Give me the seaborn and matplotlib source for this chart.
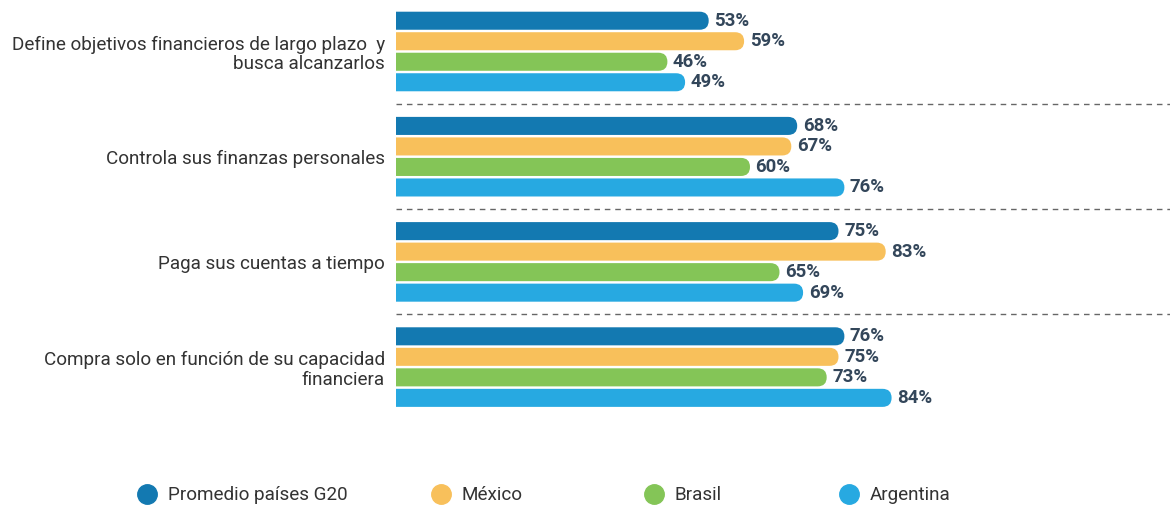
import matplotlib
matplotlib.use("Agg")
import matplotlib.pyplot as plt
from matplotlib.patches import FancyBboxPatch
from matplotlib.lines import Line2D
import seaborn as sns
import pandas as pd

# Survey results: share of people with each financial behaviour (%)
categories = [
    "Define objetivos financieros de largo plazo  y\nbusca alcanzarlos",
    "Controla sus finanzas personales",
    "Paga sus cuentas a tiempo",
    "Compra solo en función de su capacidad\nfinanciera",
]
series_names = ["Promedio países G20", "México", "Brasil", "Argentina"]
g20 = [53, 68, 75, 76]
mexico = [59, 67, 83, 75]
brasil = [46, 60, 65, 73]
argentina = [49, 76, 69, 84]

colors = ["#1379B1", "#F8C05B", "#84C557", "#27A9E1"]
label_color = "#33465A"
text_color = "#333333"

rows = []
for name, vals in zip(series_names, [g20, mexico, brasil, argentina]):
    for cat, v in zip(categories, vals):
        rows.append({"categoria": cat, "serie": name, "valor": v})
df = pd.DataFrame(rows)

sns.set_theme(style="white")
plt.rcParams["font.family"] = ["Roboto", "DejaVu Sans"]

W, H, DPI = 1173, 507, 100
fig = plt.figure(figsize=(W / DPI, H / DPI), dpi=DPI)
ax_left, ax_right, ax_top, ax_bottom = 396, 1170, 0, 420
ax = fig.add_axes([ax_left / W, (H - ax_bottom) / H,
                   (ax_right - ax_left) / W, (ax_bottom - ax_top) / H])

sns.barplot(data=df, y="categoria", x="valor", hue="serie", order=categories,
            hue_order=series_names, palette=colors, orient="h",
            width=0.78, gap=0.12, legend=False, ax=ax, errorbar=None,
            saturation=1)

xmax = (ax_right - ax_left) / 5.9
ytop, ybot = -0.4895, 3.503
ax.set_xlim(0, xmax)
ax.set_ylim(ybot, ytop)

# value labels
for cont in ax.containers:
    ax.bar_label(cont, labels=[f"{v:g}%" for v in cont.datavalues], padding=4,
                 fontsize=13.4, fontweight="bold", color=label_color)

# replace plain rectangles with bars rounded on the right end;
# the left end runs past x=0 and is clipped square by the axes
x_per_px = xmax / (ax_right - ax_left)
y_per_px = (ybot - ytop) / (ax_bottom - ax_top)
asp = y_per_px / x_per_px
for cont, col in zip(ax.containers, colors):
    for rect in cont.patches:
        x, y, w, h = rect.get_x(), rect.get_y(), rect.get_width(), rect.get_height()
        rect.set_visible(False)
        r = abs(h) / 2 / asp
        ext = 10
        ax.add_patch(FancyBboxPatch((x - ext, y), w + ext, h,
                                    boxstyle=f"round,pad=0,rounding_size={r}",
                                    mutation_aspect=asp, fc=col, ec="none", lw=0))

# dashed separators between groups
for yy in [0.5, 1.5, 2.5]:
    ax.axhline(yy, color="#666666", lw=1, ls=(0, (4, 3.5)), xmin=0, xmax=1)

for s in ax.spines.values():
    s.set_visible(False)
ax.set_xticks([])
ax.set_xlabel("")
ax.set_ylabel("")
ax.tick_params(axis="y", length=0, pad=8, labelsize=13.6, labelcolor=text_color)
for t in ax.get_yticklabels():
    t.set_linespacing(1.1)

# legend, one entry per column position
fs_leg = 13.6
half = fs_leg * DPI / 72 / 2
legend_x = [147, 441, 654, 849]
for name, col, cx in zip(series_names, colors, legend_x):
    handle = Line2D([], [], marker="o", ls="", ms=14, color=col)
    leg = fig.legend(handles=[handle], labels=[name], loc="center left",
                     bbox_to_anchor=((cx - half) / W, 11.5 / H), frameon=False,
                     borderpad=0, borderaxespad=0, handlelength=1,
                     handletextpad=0.61, fontsize=fs_leg)
    for t in leg.get_texts():
        t.set_color(text_color)

fig.savefig("out.png", dpi=DPI)
